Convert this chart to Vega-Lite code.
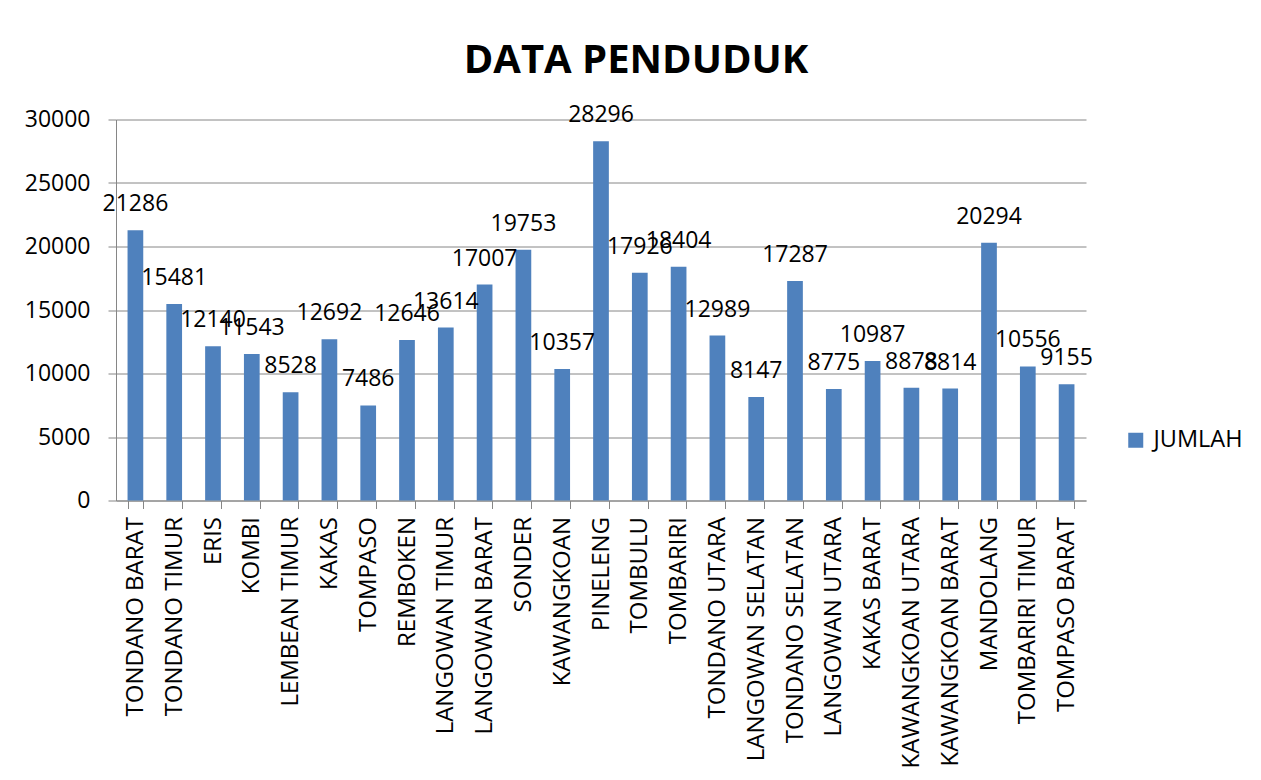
{
  "$schema": "https://vega.github.io/schema/vega-lite/v6.json",
  "autosize": "none",
  "width": 970,
  "height": 381,
  "padding": {"left": 116, "top": 119.5, "right": 175, "bottom": 279.5},
  "background": "white",
  "config": {
    "view": {"stroke": null},
    "font": "Open Sans"
  },
  "title": {
    "text": "DATA PENDUDUK",
    "anchor": "middle",
    "frame": "group",
    "dx": 35,
    "offset": 49,
    "dy": 58,
    "baseline": "alphabetic",
    "font": "Open Sans",
    "fontSize": 40,
    "fontWeight": "bold",
    "color": "#000000"
  },
  "data": {
    "values": [
      {"kecamatan": "TONDANO BARAT", "jumlah": 21286, "series": "JUMLAH"},
      {"kecamatan": "TONDANO TIMUR", "jumlah": 15481, "series": "JUMLAH"},
      {"kecamatan": "ERIS", "jumlah": 12140, "series": "JUMLAH"},
      {"kecamatan": "KOMBI", "jumlah": 11543, "series": "JUMLAH"},
      {"kecamatan": "LEMBEAN TIMUR", "jumlah": 8528, "series": "JUMLAH"},
      {"kecamatan": "KAKAS", "jumlah": 12692, "series": "JUMLAH"},
      {"kecamatan": "TOMPASO", "jumlah": 7486, "series": "JUMLAH"},
      {"kecamatan": "REMBOKEN", "jumlah": 12646, "series": "JUMLAH"},
      {"kecamatan": "LANGOWAN TIMUR", "jumlah": 13614, "series": "JUMLAH"},
      {"kecamatan": "LANGOWAN BARAT", "jumlah": 17007, "series": "JUMLAH"},
      {"kecamatan": "SONDER", "jumlah": 19753, "series": "JUMLAH"},
      {"kecamatan": "KAWANGKOAN", "jumlah": 10357, "series": "JUMLAH"},
      {"kecamatan": "PINELENG", "jumlah": 28296, "series": "JUMLAH"},
      {"kecamatan": "TOMBULU", "jumlah": 17926, "series": "JUMLAH"},
      {"kecamatan": "TOMBARIRI", "jumlah": 18404, "series": "JUMLAH"},
      {"kecamatan": "TONDANO UTARA", "jumlah": 12989, "series": "JUMLAH"},
      {"kecamatan": "LANGOWAN SELATAN", "jumlah": 8147, "series": "JUMLAH"},
      {"kecamatan": "TONDANO SELATAN", "jumlah": 17287, "series": "JUMLAH"},
      {"kecamatan": "LANGOWAN UTARA", "jumlah": 8775, "series": "JUMLAH"},
      {"kecamatan": "KAKAS BARAT", "jumlah": 10987, "series": "JUMLAH"},
      {"kecamatan": "KAWANGKOAN UTARA", "jumlah": 8878, "series": "JUMLAH"},
      {"kecamatan": "KAWANGKOAN BARAT", "jumlah": 8814, "series": "JUMLAH"},
      {"kecamatan": "MANDOLANG", "jumlah": 20294, "series": "JUMLAH"},
      {"kecamatan": "TOMBARIRI TIMUR", "jumlah": 10556, "series": "JUMLAH"},
      {"kecamatan": "TOMPASO BARAT", "jumlah": 9155, "series": "JUMLAH"}
    ]
  },
  "encoding": {
    "x": {
      "field": "kecamatan",
      "type": "nominal",
      "sort": null,
      "scale": {"paddingInner": 0.595, "paddingOuter": 0.2975},
      "axis": {
        "title": null,
        "labelAngle": 270,
        "labelFont": "Open Sans",
        "labelFontSize": 24,
        "labelColor": "#000000",
        "labelPadding": 8,
        "tickBand": "extent",
        "tickSize": 8,
        "tickColor": "#868686",
        "domainColor": "#868686",
        "domainWidth": 1,
        "grid": false,
        "labelLimit": 400
      }
    },
    "y": {
      "field": "jumlah",
      "type": "quantitative",
      "scale": {"domain": [0, 30000], "nice": false},
      "axis": {
        "title": null,
        "values": [0, 5000, 10000, 15000, 20000, 25000, 30000],
        "format": "d",
        "labelFont": "Open Sans",
        "labelFontSize": 23,
        "labelColor": "#000000",
        "labelPadding": 18,
        "tickSize": 8,
        "tickColor": "#868686",
        "domainColor": "#868686",
        "gridColor": "#868686",
        "gridWidth": 1,
        "grid": true
      }
    }
  },
  "layer": [
    {
      "mark": {"type": "bar", "color": "#4F81BD"},
      "encoding": {
        "color": {
          "field": "series",
          "type": "nominal",
          "scale": {"range": ["#4F81BD"]},
          "legend": {
            "title": null,
            "orient": "none",
            "legendX": 1008,
            "legendY": 309,
            "symbolType": "square",
            "symbolSize": 225,
            "symbolStrokeWidth": 0,
            "symbolOpacity": 1,
            "labelFont": "Open Sans",
            "labelFontSize": 23.5,
            "labelColor": "#000000",
            "labelOffset": 6,
            "padding": 0
          }
        }
      }
    },
    {
      "mark": {
        "type": "text",
        "baseline": "alphabetic",
        "align": "center",
        "dy": -19,
        "font": "Open Sans",
        "fontSize": 23,
        "color": "#000000"
      },
      "encoding": {
        "text": {"field": "jumlah", "type": "quantitative", "format": "d"}
      }
    }
  ]
}
